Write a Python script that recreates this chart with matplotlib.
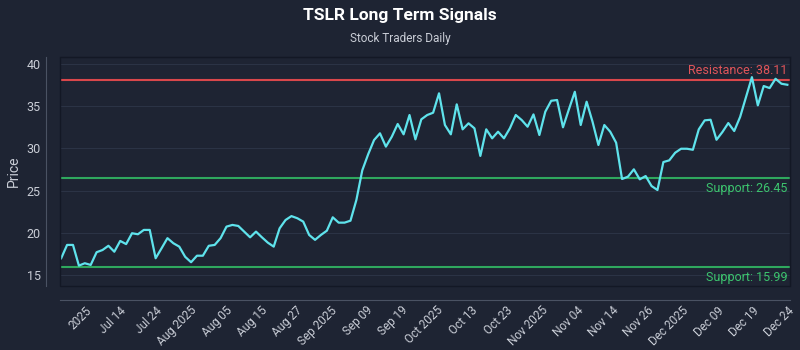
import numpy as np
import matplotlib
matplotlib.use("Agg")
import matplotlib.pyplot as plt
from matplotlib.patches import Rectangle

# closing prices (one per session)
prices = [
    17.03, 18.6, 18.6, 16.16, 16.44, 16.24, 17.74, 18.0, 18.5, 17.8,
    19.07, 18.7, 19.98, 19.86, 20.37, 20.37, 17.03, 18.2, 19.4, 18.8,
    18.4, 17.2, 16.56, 17.33, 17.33, 18.5, 18.6, 19.4, 20.76, 20.96,
    20.84, 20.17, 19.5, 20.17, 19.5, 18.87, 18.4, 20.56, 21.54, 22.0,
    21.75, 21.35, 19.78, 19.2, 19.78, 20.28, 21.86, 21.23, 21.23, 21.46,
    23.9, 27.4, 29.3, 30.98, 31.77, 30.2, 31.37, 32.87, 31.65, 33.93,
    31.06, 33.42, 33.93, 34.2, 36.49, 32.75, 31.65, 35.19, 32.24, 32.95,
    32.36, 29.1, 32.24, 31.18, 31.96, 31.18, 32.36, 33.93, 33.34, 32.55,
    34.0, 31.57, 34.32, 35.61, 35.7, 32.48, 34.6, 36.67, 32.75, 35.5,
    33.14, 30.39, 32.75, 31.96, 30.66, 26.38, 26.65, 27.52, 26.34, 26.73,
    25.55, 25.08, 28.38, 28.58, 29.48, 29.95, 29.95, 29.83, 32.24, 33.3,
    33.37, 31.01, 31.92, 32.98, 32.04, 33.7, 36.05, 38.4, 35.07, 37.35,
    37.11, 38.21, 37.62, 37.5,
]

resistance = 38.11
supports = [26.45, 15.99]

tick_labels = [
    "2025", "Jul 14", "Jul 24", "Aug 2025", "Aug 05", "Aug 15", "Aug 27",
    "Sep 2025", "Sep 09", "Sep 19", "Oct 2025", "Oct 13", "Oct 23",
    "Nov 2025", "Nov 04", "Nov 14", "Nov 26", "Dec 2025", "Dec 09",
    "Dec 19", "Dec 24",
]

BG = "#1e2433"
TXT = "#c9cdd6"
plt.rcParams["font.family"] = ["Roboto", "DejaVu Sans"]

fig = plt.figure(figsize=(8, 3.5), dpi=100, facecolor=BG)
ax = fig.add_axes([0.075, 0.183, 0.9125, 0.654], facecolor=BG)

# spines first: set_position resets the tick styling
for side in ["top", "right"]:
    ax.spines[side].set_color("#131825")
for side in ["left", "bottom"]:
    ax.spines[side].set_position(("outward", 10))
    ax.spines[side].set_color("#4a5263")
ax.add_patch(Rectangle((0, 0), 1, 1, transform=ax.transAxes, fill=False,
                       edgecolor="#131825", lw=1, clip_on=False, zorder=4))

x = np.arange(len(prices))
ax.plot(x, prices, color="#5fe3ec", lw=1.6, zorder=3)

# resistance / support levels
ax.axhline(resistance, color="#d9474b", lw=1.5, zorder=2)
for s in supports:
    ax.axhline(s, color="#2fa85e", lw=1.5, zorder=2)

ax.set_xlim(-0.2, len(prices) - 0.55)
ax.set_ylim(13.76, 40.77)

ax.text(0.997, resistance + 0.35, f"Resistance: {resistance:.2f}", color="#e0555a",
        fontsize=9, ha="right", va="bottom", transform=ax.get_yaxis_transform())
for s in supports:
    ax.text(0.997, s - 0.45, f"Support: {s:.2f}", color="#3cc46e",
            fontsize=9, ha="right", va="top", transform=ax.get_yaxis_transform())

ticks = np.linspace(4, len(prices) - 1, len(tick_labels))
ax.set_xticks(ticks)
ax.set_xticklabels(tick_labels)
ax.set_yticks([15, 20, 25, 30, 35, 40])
ax.tick_params(colors=TXT, labelsize=9, length=0)
ax.tick_params(axis="x", pad=3, labelsize=8.5)
ax.tick_params(axis="y", pad=4)
plt.setp(ax.get_xticklabels(), rotation=45, ha="right", rotation_mode="anchor")
ax.grid(axis="y", color="#2b3345", lw=0.8)
ax.set_axisbelow(True)

ax.set_ylabel("Price", color=TXT, fontsize=10, labelpad=4)
fig.text(0.5, 0.955, "TSLR Long Term Signals", color="white", fontsize=12.5,
         fontweight="bold", ha="center", va="center")
fig.text(0.5, 0.891, "Stock Traders Daily", color=TXT, fontsize=8.5,
         ha="center", va="center")

fig.savefig("out.png", dpi=100, facecolor=BG)
